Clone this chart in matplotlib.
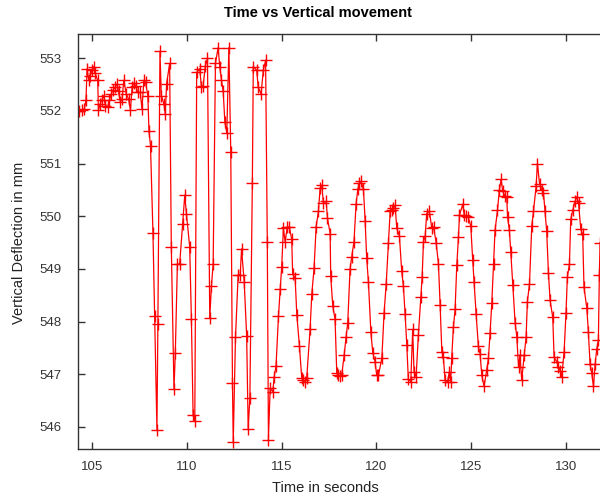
import matplotlib
matplotlib.use("Agg")
import matplotlib.pyplot as plt

plt.rcParams['font.family'] = ['Liberation Sans', 'DejaVu Sans']

time_s = [
    104.31, 104.44, 104.58, 104.66, 104.72, 104.81, 104.89, 104.97, 105.07, 105.14,
    105.28, 105.32, 105.41, 105.50, 105.60, 105.69, 105.81, 105.90, 105.99, 106.10,
    106.20, 106.31, 106.38, 106.48, 106.57, 106.66, 106.79, 106.91, 107.01, 107.10,
    107.19, 107.28, 107.40, 107.53, 107.62, 107.72, 107.81, 107.93, 107.99, 108.07,
    108.20, 108.29, 108.41, 108.46, 108.57, 108.64, 108.78, 108.85, 108.92, 109.08,
    109.17, 109.31, 109.38, 109.49, 109.61, 109.77, 109.88, 109.97, 110.14, 110.23,
    110.32, 110.41, 110.51, 110.67, 110.76, 110.85, 110.97, 111.08, 111.20, 111.29,
    111.38, 111.50, 111.64, 111.73, 111.82, 111.91, 112.00, 112.10, 112.21, 112.31,
    112.40, 112.44, 112.56, 112.70, 112.81, 112.88, 113.02, 113.15, 113.23, 113.32,
    113.45, 113.50, 113.68, 113.76, 113.91, 114.03, 114.15, 114.24,
    114.30, 114.39, 114.53, 114.60, 114.70, 114.83, 114.92, 115.00, 115.09, 115.18,
    115.30, 115.41, 115.53, 115.58, 115.71, 115.80, 115.94, 116.06, 116.15, 116.24,
    116.32, 116.50, 116.59, 116.71, 116.82, 116.94, 117.03, 117.12, 117.20, 117.35,
    117.42, 117.56, 117.59, 117.70, 117.82, 117.91, 118.00, 118.08, 118.17, 118.30,
    118.40, 118.49, 118.61, 118.70, 118.82, 118.93, 119.02, 119.11, 119.19, 119.32,
    119.41, 119.49, 119.58, 119.71, 119.81, 119.93, 120.02, 120.11, 120.29, 120.41,
    120.52, 120.64, 120.73, 120.81, 120.90, 120.99, 121.08, 121.22, 121.34, 121.43,
    121.52, 121.61, 121.69, 121.82, 121.92, 121.99, 122.10, 122.22, 122.35, 122.42,
    122.49, 122.58, 122.66, 122.80, 122.93, 123.02, 123.16, 123.28, 123.37, 123.46,
    123.54, 123.63, 123.76, 123.86, 123.93, 123.98, 124.07, 124.16, 124.25, 124.34,
    124.39,
    124.57, 124.64, 124.74, 124.86, 124.99, 125.09, 125.16, 125.27, 125.39, 125.48,
    125.57, 125.69, 125.83, 125.92, 126.01, 126.10, 126.19, 126.27, 126.40, 126.50,
    126.59, 126.68, 126.80, 126.89, 126.93, 127.03, 127.10, 127.21, 127.33, 127.42,
    127.51, 127.59, 127.68, 127.81, 127.91, 127.98, 128.09, 128.21, 128.30, 128.44,
    128.51, 128.62, 128.74, 128.83, 128.91, 129.00, 129.09, 129.18, 129.32, 129.39,
    129.53, 129.62, 129.71, 129.79, 129.92, 130.02, 130.09, 130.20, 130.27, 130.38,
    130.50, 130.59, 130.68, 130.80, 130.90, 130.97, 131.12, 131.20, 131.29, 131.38,
    131.47, 131.56, 131.64, 131.73, 131.78, 131.82,
]

deflection_mm = [
    552.00, 552.02, 552.04, 552.20, 552.80, 552.58, 552.67, 552.77, 552.84, 552.72,
    552.58, 552.02, 552.13, 552.21, 552.29, 552.10, 552.08, 552.20, 552.32, 552.40,
    552.45, 552.51, 552.37, 552.16, 552.23, 552.58, 552.32, 552.23, 552.02, 552.45,
    552.53, 552.48, 552.35, 552.35, 552.04, 552.58, 552.54, 552.29, 551.61, 551.34,
    549.68, 548.11, 545.95, 547.96, 553.13, 552.29, 552.13, 551.94, 552.51, 552.90,
    549.41, 546.72, 547.40, 549.09, 549.09, 549.85, 550.40, 550.04, 549.42, 548.05,
    546.22, 546.11, 552.73, 552.80, 552.45, 552.48, 552.86, 553.00, 548.07, 548.68,
    549.09, 552.90, 553.20, 552.84, 552.58, 552.37, 551.78, 551.58, 553.20, 551.22,
    546.83, 545.71, 547.70, 548.89, 548.89, 549.38, 548.75, 547.72, 545.96, 546.55,
    550.63, 552.84, 552.77, 552.45, 552.32, 552.77, 552.96, 549.51,
    545.76, 546.73, 546.67, 546.94, 547.15, 548.10, 548.61, 549.03, 549.77, 549.52,
    549.80, 549.79, 549.56, 548.90, 548.83, 548.12, 547.53, 546.92, 546.89, 546.86,
    546.92, 547.85, 548.52, 549.01, 549.80, 550.09, 550.53, 550.59, 550.26, 550.28,
    549.96, 549.67, 548.86, 548.29, 548.04, 547.02, 546.98, 546.96, 546.98, 547.36,
    547.70, 547.98, 548.99, 549.23, 549.52, 550.23, 550.51, 550.64, 550.66, 550.51,
    549.90, 549.20, 548.76, 547.81, 547.41, 547.24, 546.98, 546.98, 547.30, 548.17,
    548.71, 549.50, 550.09, 550.12, 550.15, 550.21, 549.77, 549.62, 548.96, 548.67,
    548.14, 547.55, 546.90, 546.86, 547.85, 547.05, 546.95, 547.74, 548.46, 548.85,
    549.52, 549.62, 550.05, 550.10, 549.77, 549.80, 549.50, 549.10, 548.31, 547.43,
    547.33, 546.89, 546.86, 547.05, 546.86, 547.30, 547.89, 548.23, 549.07, 549.61,
    550.02,
    550.23, 550.02, 550.00, 549.98, 549.81, 549.17, 548.76, 548.15, 547.53, 547.39,
    546.98, 546.77, 547.08, 547.30, 547.79, 548.36, 549.09, 549.73, 550.11, 550.50,
    550.70, 550.47, 550.38, 550.36, 549.99, 549.73, 549.33, 548.69, 547.98, 547.71,
    547.14, 547.36, 546.89, 547.36, 547.70, 548.38, 548.71, 549.81, 550.09, 550.57,
    551.00, 550.62, 550.50, 550.44, 550.09, 549.71, 548.93, 548.40, 548.08, 547.32,
    547.24, 547.14, 547.07, 546.95, 547.43, 548.17, 548.84, 549.09, 549.94, 550.12,
    550.28, 550.37, 550.26, 549.75, 549.66, 548.65, 548.25, 547.81, 547.20, 547.02,
    546.77, 547.19, 547.47, 547.65, 548.88, 549.50,
]

x_ticks = [105, 110, 115, 120, 125, 130]
y_ticks = [546, 547, 548, 549, 550, 551, 552, 553]

W, H = 600, 499
fig = plt.figure(figsize=(W / 100, H / 100), dpi=100)
ax = fig.add_axes([78 / W, 1 - 449 / H, (640 - 78) / W, (449 - 34) / H])

ax.plot(time_s, deflection_mm, color='red', lw=0.9, marker='+',
        markersize=8.5, markeredgewidth=1.0, clip_on=True)

ax.set_xlim(104.24, 104.24 + 562 / 18.93)
ax.set_ylim(545.58, 553.46)
ax.set_xticks(x_ticks)
ax.set_yticks(y_ticks)
ax.tick_params(direction='in', length=5, width=1, colors='#333333',
               top=True, right=True, labelsize=9.5)
ax.tick_params(axis='y', pad=12)
ax.tick_params(axis='x', pad=9)
for s in ax.spines.values():
    s.set_color('#333333')
    s.set_linewidth(1.0)

fig.text(318 / W, 1 - 13 / H, 'Time vs Vertical movement', ha='center',
         va='center', fontsize=10.5, fontweight='bold')
fig.text(325 / W, 1 - 488 / H, 'Time in seconds', ha='center', va='center',
         fontsize=10.5, color='#222222')
fig.text(19 / W, 1 - 243 / H, 'Vertical Deflection in mm', ha='center',
         va='center', rotation=90, fontsize=10.5, color='#222222')

fig.savefig('out.png', dpi=100)
